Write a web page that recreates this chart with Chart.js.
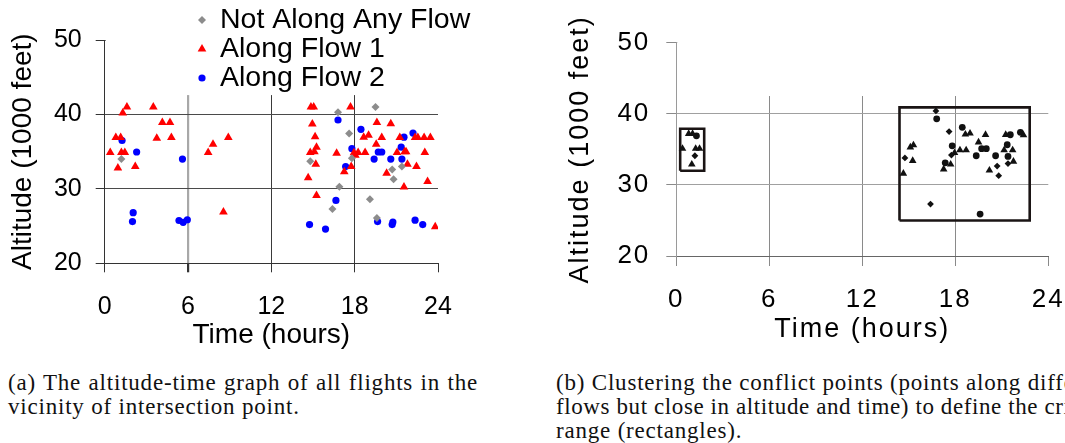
<!DOCTYPE html>
<html lang="en">
<head>
<meta charset="UTF-8">
<title>Altitude-time graphs</title>
<script src="https://cdn.jsdelivr.net/npm/chart.js"></script>
<style>
  html, body { margin: 0; padding: 0; background: #fff; overflow: hidden; }
  #page { position: relative; width: 1065px; height: 443px; overflow: hidden; }
  #chart-a { position: absolute; left: 0; top: 0; }
  #chart-b { position: absolute; left: 556px; top: 0; }
  .caption {
    position: absolute; top: 371px;
    font-family: "Liberation Serif", serif; font-size: 23px; line-height: 24px;
    letter-spacing: 0.8px; color: #111;
  }
  .caption .line { white-space: nowrap; }
  .caption .just { text-align: justify; text-align-last: justify; }
  #cap-a { left: 8px; width: 470px; }
  #cap-b { left: 556px; width: 600px; }
  #cap-b .line:nth-child(2) { letter-spacing: 0.6px; }
</style>
</head>
<body>
<div id="page">
  <canvas id="chart-a" width="480" height="360"></canvas>
  <canvas id="chart-b" width="509" height="360"></canvas>
  <div class="caption" id="cap-a">
    <div class="just">(a) The altitude-time graph of all flights in the</div>
    <div class="line">vicinity of intersection point.</div>
  </div>
  <div class="caption" id="cap-b">
    <div class="line">(b) Clustering the conflict points (points along different</div>
    <div class="line">flows but close in altitude and time) to define the critical</div>
    <div class="line">range (rectangles).</div>
  </div>
</div>

<script>
  // axis ticks shared by both panels
  const timeTicks = [0, 6, 12, 18, 24];
  const altTicks = [20, 30, 40, 50];

  // (a) all flights near the intersection point, time in hours, altitude in 1000 ft
  const noneTime = [1.2, 14.8, 16.4, 16.8, 16.9, 17.6, 17.8, 19.1, 19.5, 19.6, 20.7, 20.8, 21.4];
  const noneAlt  = [34.0, 33.7, 27.3, 40.3, 30.3, 37.45, 34.1, 28.6, 41.0, 26.1, 32.6, 31.3, 33.0];

  const flow1Time = [0.4, 0.8, 0.95, 1.15, 1.2, 1.3, 1.45, 1.6, 2.2, 3.5, 3.75, 4.15, 4.7, 4.8, 7.45, 7.8, 8.55, 8.9,
    14.65, 14.8, 14.85, 14.95, 15.05, 15.1, 15.15, 15.2, 15.25, 15.25, 16.7, 17.25, 17.7, 17.75, 17.95, 18.05, 18.25,
    18.65, 18.75, 19.0, 19.55, 19.6, 19.95, 20.3, 20.6, 21.05, 21.25, 21.55, 21.6, 21.7, 21.8, 22.35, 22.45, 22.55,
    23.0, 23.05, 23.25, 23.45, 23.8];
  const flow1Alt = [34.9, 36.9, 32.8, 36.9, 34.9, 40.2, 34.9, 41.0, 33.0, 41.0, 36.8, 38.9, 38.9, 36.9, 34.9, 36.0, 26.9, 36.9,
    31.5, 34.9, 41.0, 38.7, 41.0, 35.0, 37.0, 33.3, 35.6, 29.1, 34.8, 32.3, 41.0, 33.0, 34.85, 34.5, 34.9,
    36.95, 34.9, 37.2, 36.0, 38.9, 36.9, 32.1, 38.75, 34.9, 36.9, 30.25, 35.0, 35.0, 33.3, 36.9, 33.0, 36.9,
    36.9, 34.9, 31.0, 36.9, 24.9];

  const flow2Time = [1.25, 2.0, 2.05, 2.3, 5.35, 5.6, 5.65, 5.95,
    14.75, 15.9, 16.65, 16.8, 17.35, 17.8, 18.45, 19.4, 19.65, 19.7, 19.95, 20.6, 20.7, 20.75, 21.35, 21.4,
    21.55, 22.2, 22.35, 22.9];
  const flow2Alt = [36.5, 25.6, 26.8, 34.95, 25.75, 34.0, 25.5, 25.85,
    25.2, 24.6, 28.45, 39.25, 33.0, 35.4, 38.0, 34.0, 25.6, 34.95, 34.95, 34.0, 25.2, 25.55, 35.6, 34.0,
    36.95, 37.5, 25.8, 25.2];

  // (b) conflict points only
  const cFlow1Time = [0.8, 1.05, 0.4, 1.25, 1.5, 1.0,
    14.65, 15.1, 15.3, 15.25, 17.25, 17.7, 17.95, 18.3, 18.7, 18.65, 18.95, 19.5, 19.95, 20.2, 21.15, 21.25,
    21.7, 21.75, 22.4];
  const cFlow1Alt = [37.2, 37.2, 35.1, 35.1, 35.1, 32.9,
    31.6, 35.3, 35.6, 33.4, 32.2, 32.9, 34.5, 34.9, 34.9, 37.1, 37.25, 36.0, 37.05, 32.05, 34.9, 37.05,
    34.9, 33.3, 37.0];
  const cFlow2Time = [1.3, 16.8, 17.35, 17.8, 18.45, 19.35, 19.6, 19.7, 20.0, 20.6, 21.35, 21.4, 21.55, 22.2];
  const cFlow2Alt  = [36.9, 39.3, 33.1, 35.5, 38.1, 34.1, 25.9, 35.1, 35.1, 34.1, 35.65, 34.0, 37.05, 37.4];
  const cNoneTime = [1.2, 14.75, 16.4, 16.75, 17.6, 17.75, 20.7, 20.8, 21.4];
  const cNoneAlt  = [34.1, 33.8, 27.3, 40.4, 37.5, 34.2, 32.65, 31.3, 33.0];

  // critical ranges (cluster rectangles)
  const rangeTimeFrom = [0.25, 14.4];
  const rangeTimeTo   = [1.8, 22.8];
  const rangeAltFrom  = [32.0, 25.0];
  const rangeAltTo    = [37.9, 40.9];

  const FONT = '"Liberation Sans", Arial, sans-serif';
  const pts = (xs, ys) => xs.map((x, i) => ({ x: x, y: ys[i] }));

  function drawMarker(ctx, style, x, y, r, color) {
    ctx.fillStyle = color;
    ctx.beginPath();
    if (style === 'triangle') {
      for (let k = 0; k < 3; k++) {
        const a = -Math.PI / 2 + k * 2 * Math.PI / 3;
        ctx.lineTo(x + r * Math.cos(a), y + r * Math.sin(a));
      }
    } else if (style === 'rectRot') {
      ctx.moveTo(x, y - r); ctx.lineTo(x + r, y); ctx.lineTo(x, y + r); ctx.lineTo(x - r, y);
    } else {
      ctx.arc(x, y, r, 0, Math.PI * 2);
    }
    ctx.closePath();
    ctx.fill();
  }

  // white area at the top of the plot (legend box) that hides the upper grid
  const legendBox = {
    id: 'legendBox',
    beforeDraw(chart, args, opts) {
      chart.ctx.letterSpacing = (opts.spacing || 0) + 'px';
    },
    beforeDatasetsDraw(chart, args, opts) {
      const { ctx, chartArea, scales } = chart;
      const yCut = scales.y.getPixelForValue(opts.cutAt);
      ctx.save();
      ctx.fillStyle = '#fff';
      ctx.fillRect(chartArea.left + 1, 0, chart.width - chartArea.left, yCut);
      ctx.restore();
    },
    afterDraw(chart, args, opts) {
      if (!opts.items) return;
      const ctx = chart.ctx;
      ctx.save();
      ctx.font = opts.fontSize + 'px ' + FONT;
      ctx.textBaseline = 'middle';
      chart.data.datasets.forEach((ds, i) => {
        const y = opts.y0 + i * opts.step;
        drawMarker(ctx, ds.pointStyle, opts.markX, y, ds.pointRadius, ds.backgroundColor);
        ctx.fillStyle = '#000';
        ctx.fillText(ds.label, opts.textX, y);
      });
      ctx.restore();
    }
  };

  function axes(o) {
    return {
      x: {
        type: 'linear', min: 0, max: 24,
        afterBuildTicks: s => { s.ticks = timeTicks.map(v => ({ value: v })); },
        afterFit: s => { s.height = o.xHeight; s.paddingLeft = 0; s.paddingRight = 0; },
        grid: {
          color: c => c.tick.value === 24 ? 'rgba(0,0,0,0)' : (o.gridX(c.tick.value)),
          lineWidth: c => c.tick.value === 6 ? o.sixWidth : 1,
          tickColor: o.tickColor, tickLength: o.tickLen
        },
        border: { color: o.borderX },
        ticks: { color: '#000', font: { family: FONT, size: o.tickSize }, padding: o.xPad, maxRotation: 0 },
        title: { display: true, text: 'Time (hours)', color: '#000',
          font: { family: FONT, size: o.titleSize }, padding: { top: 0, bottom: o.xTitlePad } }
      },
      y: {
        min: 20, max: 50,
        afterBuildTicks: s => { s.ticks = altTicks.map(v => ({ value: v })); },
        afterFit: s => { s.width = o.yWidth; s.paddingTop = 0; s.paddingBottom = 0; },
        grid: { color: o.gridY, tickColor: o.tickColor, tickLength: o.tickLen },
        border: { color: o.borderY },
        ticks: { color: '#000', font: { family: FONT, size: o.tickSize }, padding: o.yPad },
        title: { display: true, text: 'Altitude (1000 feet)', color: '#000',
          font: { family: FONT, size: o.titleSize }, padding: { top: o.yTitlePad, bottom: 0 } }
      }
    };
  }

  new Chart(document.getElementById('chart-a'), {
    type: 'scatter',
    data: {
      datasets: [
        { label: 'Not Along Any Flow', data: pts(noneTime, noneAlt), pointStyle: 'rectRot',
          pointRadius: 4, backgroundColor: '#8c8c8c', borderWidth: 0 },
        { label: 'Along Flow 1', data: pts(flow1Time, flow1Alt), pointStyle: 'triangle',
          pointRadius: 5, backgroundColor: '#ff0000', borderWidth: 0 },
        { label: 'Along Flow 2', data: pts(flow2Time, flow2Alt), pointStyle: 'circle',
          pointRadius: 3.6, backgroundColor: '#0000ff', borderWidth: 0 }
      ]
    },
    options: {
      responsive: false, animation: false,
      layout: { padding: { left: 0, top: 40, right: 42, bottom: 0 } },
      plugins: {
        legend: { display: false }, tooltip: { enabled: false },
        legendBox: { cutAt: 42.6, items: true, markX: 202, textX: 220, y0: 20, step: 29, fontSize: 28.5 }
      },
      scales: axes({
        xHeight: 96.7, yWidth: 104.7, tickLen: 9, tickSize: 25, titleSize: 28,
        xPad: 20, yPad: 14, xTitlePad: 8, yTitlePad: 6,
        gridX: v => v === 6 ? '#a8a8a8' : '#3a3a3a', sixWidth: 2.2,
        gridY: '#4a4a4a', tickColor: '#333', borderX: '#333', borderY: '#333'
      })
    },
    plugins: [legendBox]
  });

  const boxSets = rangeTimeFrom.map((t0, i) => ({
    type: 'line',
    data: [
      { x: t0, y: rangeAltFrom[i] }, { x: rangeTimeTo[i], y: rangeAltFrom[i] },
      { x: rangeTimeTo[i], y: rangeAltTo[i] }, { x: t0, y: rangeAltTo[i] }, { x: t0, y: rangeAltFrom[i] }
    ],
    borderColor: '#1a1414', borderWidth: 2.6, pointRadius: 0, fill: false, tension: 0
  }));

  new Chart(document.getElementById('chart-b'), {
    type: 'scatter',
    data: {
      datasets: [
        { data: pts(cNoneTime, cNoneAlt), pointStyle: 'rectRot', pointRadius: 3.4, backgroundColor: '#111', borderWidth: 0 },
        { data: pts(cFlow1Time, cFlow1Alt), pointStyle: 'triangle', pointRadius: 4.4, backgroundColor: '#111', borderWidth: 0 },
        { data: pts(cFlow2Time, cFlow2Alt), pointStyle: 'circle', pointRadius: 3.4, backgroundColor: '#111', borderWidth: 0 }
      ].concat(boxSets)
    },
    options: {
      responsive: false, animation: false,
      layout: { padding: { left: 0, top: 42.7, right: 16.7, bottom: 0 } },
      plugins: {
        legend: { display: false }, tooltip: { enabled: false },
        legendBox: { cutAt: 42.5, spacing: 2 }
      },
      scales: axes({
        xHeight: 104, yWidth: 120.3, tickLen: 10, tickSize: 26, titleSize: 27,
        xPad: 18, yPad: 16, xTitlePad: 14, yTitlePad: 8,
        gridX: () => '#8a8a8a', sixWidth: 1,
        gridY: '#a0a0a0', tickColor: '#8a8a8a', borderX: '#666', borderY: '#9a9a9a'
      })
    },
    plugins: [legendBox]
  });
</script>
</body>
</html>
